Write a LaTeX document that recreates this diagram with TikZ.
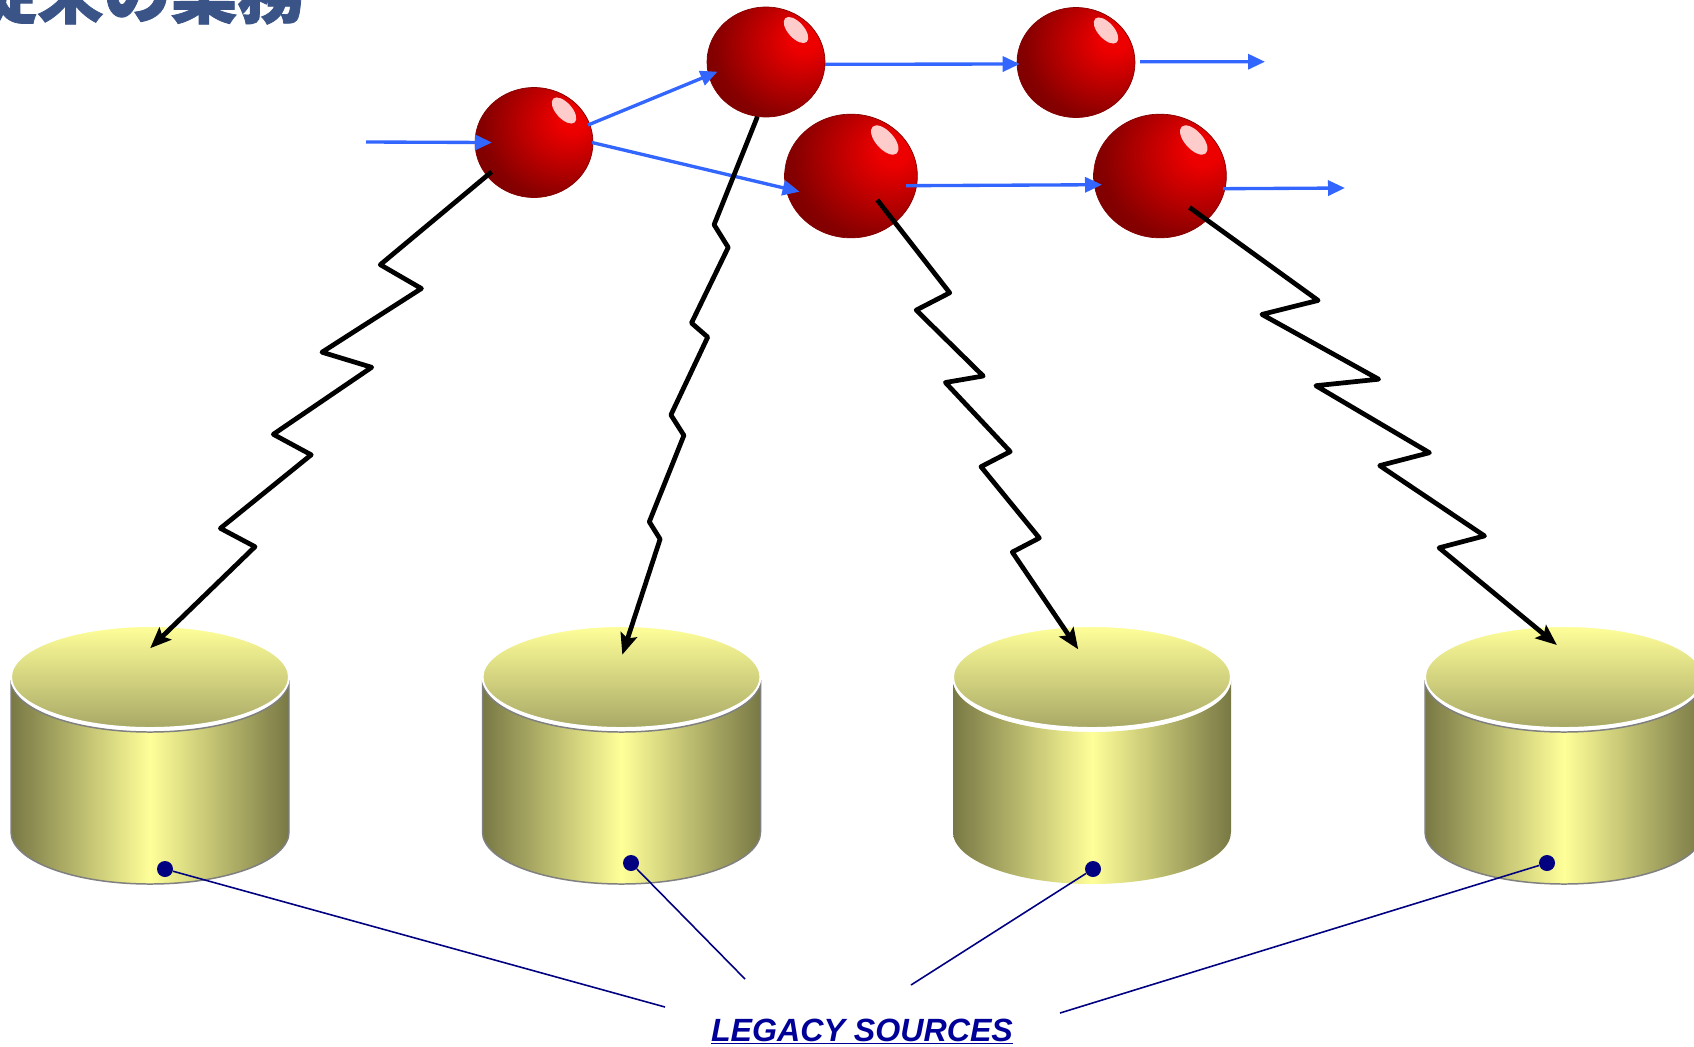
\documentclass[tikz,border=0pt]{standalone}
\usepackage{fontspec}
\setmainfont{Liberation Sans}
\newfontfamily\cjk[BoldFeatures={FakeBold=1.2}]{Noto Sans CJK JP}
\usetikzlibrary{arrows.meta,calc,shapes.geometric}
\definecolor{titleblue}{HTML}{3A5488}
\definecolor{flowblue}{HTML}{3366FF}
\definecolor{ballhi}{HTML}{EC0000}
\definecolor{ballmid}{HTML}{B80000}
\definecolor{balldark}{HTML}{860000}
\definecolor{ballrim}{HTML}{6C0000}
\definecolor{cyllight}{HTML}{FFFF99}
\definecolor{cyldark}{HTML}{787845}
\definecolor{captop}{HTML}{FFFF99}
\definecolor{capbottom}{HTML}{A8A866}
\definecolor{leadnavy}{HTML}{000080}
\definecolor{labelnavy}{HTML}{000099}
\pgfdeclareradialshading{ballshade}{\pgfpoint{17bp}{11bp}}{%
    color(0bp)=(ballhi); color(6bp)=(ballhi); color(20bp)=(ballmid);
    color(33bp)=(balldark); color(50bp)=(ballrim); color(100bp)=(ballrim)}
\tikzset{
    ball/.style={shape=ellipse, shading=ballshade, draw=balldark, line width=.4pt,
        minimum width=2.36cm, minimum height=2.2cm, inner sep=0pt, outer sep=0pt},
    glint/.style={shape=ellipse, fill=red!20, rotate=-48,
        minimum width=.64cm, minimum height=.32cm, inner sep=0pt},
    flow/.style={draw=flowblue, line width=1.9pt, -{Triangle[length=.34cm,width=.3cm]}},
    zigzag/.style={draw=black, line width=2.7pt, line join=round,
        -{Stealth[length=.42cm,width=.34cm,inset=.08cm]}},
    cylbody/.style={left color=cyldark, right color=cyldark, middle color=cyllight,
        line width=.85pt},
    cylcap/.style={shape=ellipse, top color=captop, bottom color=capbottom, draw=white,
        line width=1.1pt, minimum width=5.56cm, minimum height=2.04cm, inner sep=0pt},
    dot/.style={shape=circle, fill=leadnavy, minimum size=.32cm, inner sep=0pt},
    leader/.style={draw=leadnavy, line width=.9pt},
}
\begin{document}
\begin{tikzpicture}[x=.02cm, y=-.02cm]
    \useasboundingbox (0,0) rectangle (1694,1046);
    \clip (0,0) rectangle (1694,1046);
    \node [anchor=base west, inner sep=0pt, text=titleblue, font=\cjk\bfseries\fontsize{38}{38}\selectfont] (title) at (-30,18) {従来の業務};

    \foreach \name/\cx/\edge in {A/150/gray, B/621.5/gray, C/1092/none, D/1564/gray} {
        \draw [cylbody, draw=\edge] (\cx-139,680) -- (\cx-139,832)
            arc [start angle=180, end angle=0, x radius=139, y radius=52]
            -- (\cx+139,680)
            arc [start angle=0, end angle=180, x radius=139, y radius=52] -- cycle;
        \node [cylcap] (cap\name) at (\cx,677) {};
    }

    \node [dot] (dotA) at (165,869) {};
    \node [dot] (dotB) at (631,863) {};
    \node [dot] (dotC) at (1093,869) {};
    \node [dot] (dotD) at (1547,863) {};
    \coordinate (leadA) at (665,1007);
    \coordinate (leadB) at (745,979);
    \coordinate (leadC) at (911,985);
    \coordinate (leadD) at (1060,1013);
    \draw [leader] (dotA) -- (leadA);
    \draw [leader] (dotB) -- (leadB);
    \draw [leader] (dotC) -- (leadC);
    \draw [leader] (dotD) -- (leadD);
    \node [anchor=base, inner sep=0pt, text=labelnavy, font=\bfseries\itshape\fontsize{18.3}{20}\selectfont] (sources) at (862,1041) {\underline{LEGACY SOURCES}};

    \foreach \name/\bx/\by/\bs in {A/534/142.5/1, B/766/62/1, C/1076/62.5/1, D/851/176/1.125, E/1160/176/1.125} {
        \node [ball, scale=\bs] (ball\name) at (\bx,\by) {};
        \node [glint, scale=\bs] (glint\name) at ($(ball\name)+(\bs*30,-\bs*32)$) {};
    }

    \coordinate (feed) at (366,142);
    \coordinate (outC) at (1265,61.7);
    \coordinate (outE) at (1345,188);
    \draw [flow] (feed) -- ($(ballA)+(-42,0)$);
    \draw [flow] ($(ballA)+(54,-17.5)$) -- ($(ballB)+(-48.5,9.7)$);
    \draw [flow] ($(ballA)+(58,0)$) -- ($(ballD)+(-51.4,15.7)$);
    \draw [flow] ($(ballB)+(59,2.3)$) -- ($(ballC)+(-56.3,1.5)$);
    \draw [flow] ($(ballC)+(64,-.8)$) -- (outC);
    \draw [flow] ($(ballD)+(55,9.7)$) -- ($(ballE)+(-58,8.7)$);
    \draw [flow] ($(ballE)+(63,12.7)$) -- (outE);

    \draw [zigzag] ($(ballA)+(-42.4,29.3)$) -- (380.3,264.7) -- (421.4,288.5) -- (322,352.2) -- (371.7,367.3) -- (273.3,434.3) -- (311.2,454.8) -- (220.4,528.3) -- (255,546.7) -- ($(capA)+(0.2,-28.8)$);
    \draw [zigzag] ($(ballB)+(-8.6,54.7)$) -- (714.1,224.7) -- (728.2,247.4) -- (691.5,323) -- (707.7,337.1) -- (670.9,414.9) -- (683.9,435.4) -- (649.3,521.8) -- (660.1,539.1) -- ($(capB)+(.8,-22.3)$);
    \draw [zigzag] ($(ballD)+(26.3,23.9)$) -- (949.7,292.8) -- (916.2,310.1) -- (983.2,376) -- (945.4,382.5) -- (1010.2,451.6) -- (981,466.7) -- (1039.3,538) -- (1012.3,552.1) -- ($(capC)+(-13.8,-27.7)$);
    \draw [zigzag] ($(ballE)+(29.5,31.4)$) -- (1318.1,300.4) -- (1261.9,314.4) -- (1378.6,379.2) -- (1315.9,385.7) -- (1429.4,452.7) -- (1379.7,465.6) -- (1484.5,535.9) -- (1439.1,547.8) -- ($(capD)+(-7.1,-32)$);
\end{tikzpicture}
\end{document}
